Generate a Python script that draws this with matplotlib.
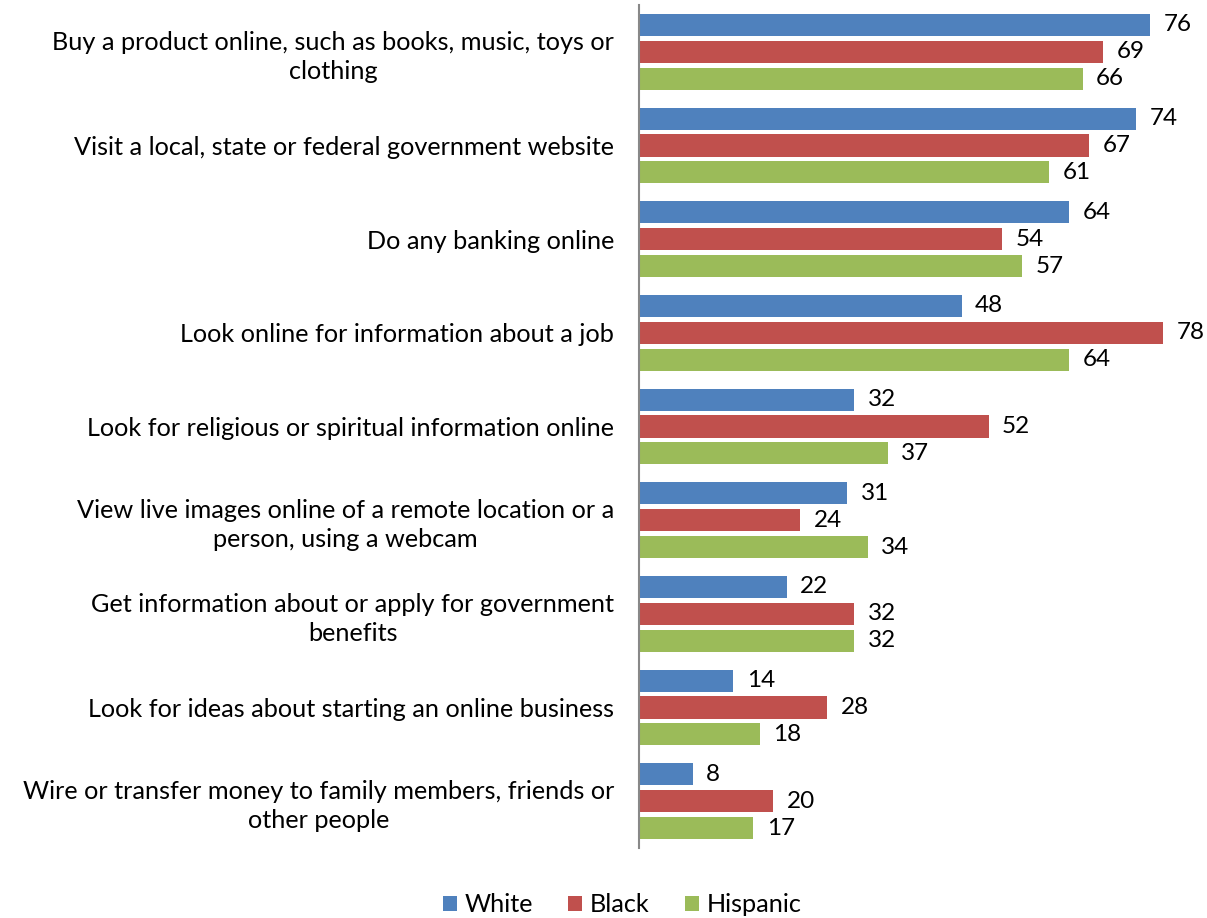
import numpy as np
import matplotlib.pyplot as plt

plt.rcParams['font.family'] = ['Lato', 'DejaVu Sans']

categories = [
    'Buy a product online, such as books, music, toys or\nclothing',
    'Visit a local, state or federal government website',
    'Do any banking online',
    'Look online for information about a job',
    'Look for religious or spiritual information online',
    'View live images online of a remote location or a\nperson, using a webcam',
    'Get information about or apply for government\nbenefits',
    'Look for ideas about starting an online business',
    'Wire or transfer money to family members, friends or\nother people',
]
white = [76, 74, 64, 48, 32, 31, 22, 14, 8]
black = [69, 67, 54, 78, 52, 24, 32, 28, 20]
hispanic = [66, 61, 57, 64, 37, 34, 32, 18, 17]

series = [('White', white, '#4F81BD'), ('Black', black, '#C0504D'), ('Hispanic', hispanic, '#9BBB59')]

fig = plt.figure(figsize=(12.07, 9.18), dpi=100)
ax = fig.add_axes([639 / 1207, 1 - 848 / 918, 1 - 639 / 1207, 843 / 918])

n = len(categories)
y = np.arange(n)
pitch = 0.288
h = 0.235
for k, (name, vals, col) in enumerate(series):
    pos = y + (k - 1) * pitch
    ax.barh(pos, vals, height=h, color=col, label=name)
    for p, v in zip(pos, vals):
        ax.text(v + 2.0, p, str(v), va='center', ha='left', fontsize=17.5, color='black')

ax.set_ylim(n - 0.5, -0.5)
ax.set_xlim(0, 84.5)
ax.set_yticks(y)
ax.set_yticklabels(categories, fontsize=18.2, ha='right', multialignment='center', linespacing=1.3)
ax.tick_params(axis='y', length=0, pad=18)
ax.set_xticks([])
for s in ['top', 'right', 'bottom']:
    ax.spines[s].set_visible(False)
ax.spines['left'].set_color('#888888')
ax.spines['left'].set_linewidth(1.5)

fig.legend(loc='center', bbox_to_anchor=(622 / 1207, 1 - 905 / 918), ncol=3, frameon=False,
           fontsize=18.2, handlelength=0.55, handleheight=0.55, handletextpad=0.3, columnspacing=1.4)

fig.savefig('out.png', dpi=100)
